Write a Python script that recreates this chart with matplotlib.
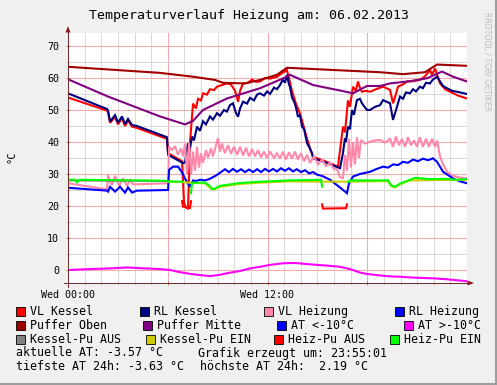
import numpy as np
import matplotlib
matplotlib.use('Agg')
import matplotlib.pyplot as plt
from matplotlib.patches import Rectangle, Polygon
from matplotlib.ticker import MultipleLocator, FixedLocator, FixedFormatter

plt.rcParams['font.family'] = ['DejaVu Sans Mono']

# ---------------- data (hours since 00:00, degrees C) ----------------
vl_kessel_t = [0, 2.35, 2.41, 2.53, 2.83, 3.01, 3.25, 3.43, 3.61, 3.85, 4.15, 5.95, 6.02, 6.86, 6.98, 7.10, 7.22,
               7.34, 7.52, 7.70, 7.82, 8.00, 8.12, 8.36, 8.54, 8.78, 8.96, 9.26, 9.56, 9.80, 10.05, 10.23, 10.35,
               10.53, 10.83, 11.07, 11.31, 11.55, 11.85, 12.15, 12.57, 12.87, 13.17, 13.29, 13.47, 13.71, 13.95,
               14.14, 14.38, 14.56, 14.74, 15.46, 16.24, 16.54, 16.66, 16.84, 16.96, 17.14, 17.32, 17.44, 17.56,
               17.68, 17.92, 18.17, 18.53, 18.95, 19.37, 19.55, 19.67, 19.85, 20.15, 20.39, 20.75, 21.17, 21.47,
               21.77, 21.89, 22.08, 22.20, 22.38, 22.68, 22.98, 23.46, 24.0]
vl_kessel_v = [53.9, 49.8, 49.3, 46.0, 47.8, 45.5, 47.5, 45.0, 46.7, 44.8, 44.4, 41.0, 36.5, 34.0, 21.0, 19.5, 19.2,
               40.0, 52.0, 50.5, 53.5, 53.0, 55.2, 54.8, 56.5, 56.2, 57.3, 57.8, 58.3, 58.0, 56.0, 52.6, 56.0,
               58.3, 58.5, 59.5, 58.8, 58.9, 60.0, 59.8, 60.4, 61.5, 62.5, 60.0, 56.0, 52.0, 49.0,
               45.5, 41.0, 38.0, 35.4, 34.0, 32.3, 44.8, 43.0, 53.0, 51.0, 57.3, 56.0, 58.9, 57.0,
               55.7, 56.0, 55.7, 56.5, 57.3, 56.3, 52.1, 54.0, 57.3, 58.0, 58.9, 59.0, 59.4, 60.5,
               62.5, 61.0, 63.0, 61.0, 58.3, 56.5, 55.7, 54.5, 53.6]

rl_kessel_t = [0, 2.35, 2.41, 2.53, 2.83, 3.01, 3.25, 3.43, 3.61, 3.85, 4.15, 5.95, 6.02, 6.92, 7.04, 7.22, 7.34,
               7.46, 7.58, 7.76, 7.94, 8.12, 8.30, 8.54, 8.72, 8.96, 9.14, 9.38, 9.56, 9.74, 9.92, 10.11, 10.23,
               10.35, 10.53, 10.77, 10.95, 11.19, 11.37, 11.55, 11.79, 11.97, 12.15, 12.39, 12.57, 12.75, 12.93,
               13.05, 13.17, 13.29, 13.35, 13.47, 13.65, 13.77, 13.83, 13.95, 14.08, 14.20, 14.38, 14.50, 14.68,
               14.74, 15.34, 16.36, 16.54, 16.66, 16.72, 16.84, 16.96, 17.08, 17.20, 17.38, 17.56, 17.68, 17.98,
               18.17, 18.47, 18.77, 18.95, 19.19, 19.37, 19.55, 19.73, 19.97, 20.15, 20.33, 20.57, 20.75, 20.93,
               21.17, 21.35, 21.53, 21.77, 21.95, 22.20, 22.38, 22.56, 22.80, 23.10, 23.40, 24.0]
rl_kessel_v = [55.2, 50.3, 49.8, 46.4, 48.4, 46.0, 48.0, 45.6, 47.2, 45.3, 45.0, 41.5, 36.0, 33.4, 33.6, 39.6, 38.0,
               41.7, 40.5, 44.8, 43.5, 46.5, 45.5, 48.0, 47.0, 49.0, 48.2, 50.0, 49.5, 51.5, 52.1, 49.0, 47.9,
               50.5, 52.6, 52.0, 53.8, 53.0, 54.8, 55.2, 54.5, 55.8, 55.0, 57.0, 56.5, 57.8, 59.5,
               58.5, 61.0, 58.0, 57.3, 54.0, 52.0, 49.5, 47.9, 48.5, 44.8, 44.0, 39.6, 38.5, 36.5,
               34.9, 33.9, 31.8, 36.5, 41.2, 40.0, 44.8, 44.0, 50.0, 48.5, 53.1, 53.5, 52.1, 50.0,
               50.0, 51.0, 51.5, 53.1, 52.5, 52.1, 46.9, 50.0, 54.2, 53.5, 55.5, 55.2, 56.5, 55.8,
               57.3, 56.8, 58.5, 58.3, 59.5, 60.4, 58.9, 57.5, 56.8, 56.0, 55.7, 55.0]

vl_heizung_t = [0, 2.35, 2.41, 2.53, 2.65, 2.83, 3.07, 3.31, 3.55, 3.73, 3.91, 4.15, 6.02, 6.08, 6.26, 6.44, 6.62,
                6.80, 6.92, 7.04, 7.16, 7.28, 7.40, 7.52, 7.64, 7.76, 7.88, 8.00, 8.12, 8.30, 8.42, 8.60, 8.72,
                8.90, 9.02, 9.14, 9.26, 9.44, 9.62, 9.80, 9.98, 10.17, 10.35, 10.53, 10.71, 10.89, 11.07, 11.25,
                11.43, 11.61, 11.79, 11.97, 12.15, 12.39, 12.57, 12.75, 12.93, 13.11, 13.29, 13.47, 13.65, 13.83,
                14.01, 14.20, 14.38, 14.56, 14.80, 15.04, 15.28, 15.52, 15.76, 16.00, 16.18, 16.36, 16.54, 16.66,
                16.78, 16.90, 17.02, 17.14, 17.26, 17.38, 17.50, 17.62, 17.86, 18.17, 18.47, 18.77, 19.07, 19.37,
                19.55, 19.73, 19.91, 20.09, 20.27, 20.45, 20.63, 20.81, 20.99, 21.17, 21.35, 21.53, 21.71, 21.89,
                22.08, 22.20, 22.38, 22.56, 22.80, 23.16, 23.58, 24.0]
vl_heizung_v = [27.1, 25.2, 29.7, 27.5, 26.6, 29.4, 26.3, 28.6, 26.3, 28.1, 26.8, 26.8, 27.1, 38.5, 37.5, 38.7, 36.0,
                38.0, 35.5, 39.5, 30.0, 39.7, 29.7, 37.0, 31.0, 38.5, 32.0, 36.5, 33.5, 37.5, 35.0, 38.0, 35.5,
                39.0, 41.2, 37.0, 39.5, 36.5, 39.0, 36.3, 38.5, 36.0, 38.5, 35.8, 38.2, 35.5, 37.8, 35.5,
                37.5, 35.2, 37.0, 35.0, 37.0, 35.0, 36.5, 34.8, 37.0, 34.5, 36.8, 34.8, 37.0, 34.5,
                36.5, 34.0, 36.0, 33.5, 35.5, 33.0, 34.5, 32.5, 33.5, 31.5, 31.5, 29.0, 28.7, 36.0,
                31.0, 41.0, 32.0, 40.0, 33.0, 41.5, 35.0, 40.6, 39.5, 40.1, 40.5, 40.6, 39.8, 41.0,
                38.5, 41.7, 39.0, 41.0, 38.5, 41.5, 39.0, 40.5, 38.5, 41.5, 38.5, 41.0, 38.5, 41.0,
                38.5, 40.5, 35.4, 33.0, 30.7, 29.4, 28.9, 28.6]

rl_heizung_t = [0, 2.35, 2.41, 2.53, 2.83, 3.13, 3.43, 3.61, 3.85, 4.15, 6.02, 6.08, 6.32, 6.62, 6.86, 7.04, 7.22,
                7.34, 7.52, 7.70, 7.94, 8.24, 8.54, 8.78, 8.96, 9.20, 9.44, 9.68, 9.92, 10.17, 10.41, 10.65,
                10.89, 11.13, 11.37, 11.61, 11.85, 12.09, 12.33, 12.57, 12.81, 13.05, 13.29, 13.53, 13.77, 14.01,
                14.26, 14.50, 14.74, 14.98, 15.28, 15.76, 16.36, 16.78, 16.90, 17.14, 17.56, 18.17, 18.53, 18.95,
                19.25, 19.55, 19.85, 20.15, 20.45, 20.75, 21.05, 21.35, 21.65, 21.95, 22.20, 22.56, 23.16, 23.58,
                24.0]
rl_heizung_v = [25.7, 24.8, 24.5, 26.0, 24.5, 26.0, 24.2, 25.8, 24.2, 24.8, 25.0, 31.3, 32.3, 32.3, 30.5, 28.6, 27.0,
                26.0, 28.0, 27.8, 28.2, 28.0, 28.5, 29.2, 29.7, 30.6, 31.5, 30.6, 31.6, 30.7, 31.5, 30.6,
                31.4, 30.6, 31.5, 30.6, 31.6, 30.8, 31.6, 30.8, 31.8, 31.0, 31.8, 30.8, 31.5, 30.6,
                31.2, 30.2, 30.6, 29.8, 29.4, 28.2, 25.8, 24.0, 27.0, 29.2, 30.0, 30.7, 31.5, 32.3,
                32.0, 33.0, 32.8, 33.8, 33.5, 34.5, 34.0, 34.8, 34.3, 34.9, 33.8, 30.7, 28.6, 27.7,
                27.1]

puffer_oben_t = [0, 5.53, 7.52, 8.84, 9.32, 10.65, 11.55, 12.57, 13.17, 18.77, 20.15, 21.47, 22.20, 24.0]
puffer_oben_v = [63.5, 61.6, 60.4, 59.4, 58.5, 58.3, 59.4, 61.0, 63.2, 61.8, 61.2, 61.8, 64.2, 63.8]

puffer_mitte_t = [0, 2.41, 5.53, 7.04, 7.52, 8.12, 9.56, 11.55, 13.17, 13.35, 14.74, 16.54, 17.14, 17.98, 18.77,
                  19.37, 20.57, 21.59, 22.50, 23.16, 24.0]
puffer_mitte_v = [59.6, 54.2, 48.0, 45.5, 46.6, 50.0, 53.6, 56.8, 60.4, 61.0, 57.8, 55.9, 55.2, 57.5, 57.5,
                  58.3, 59.0, 59.9, 62.0, 60.4, 58.9]

at_low_t = []   # AT <-10 degC: no data in this period
at_low_v = []

at_high_t = [0, 1.32, 2.53, 3.55, 4.63, 5.53, 6.14, 6.56, 7.34, 7.94, 8.54, 9.14, 9.56, 10.35, 10.95, 11.55, 12.15,
             12.93, 13.65, 14.26, 14.98, 15.76, 16.36, 16.96, 17.56, 17.98, 18.77, 19.37, 19.97, 20.87, 21.95,
             22.80, 23.58, 24.0]
at_high_v = [0.0, 0.3, 0.5, 0.8, 0.5, 0.3, 0.0, -0.5, -1.2, -1.6, -1.9, -1.5, -1.0, -0.3, 0.5, 1.0, 1.6,
             2.1, 2.2, 1.9, 1.6, 1.3, 1.0, 0.3, -0.8, -1.25, -1.7, -2.0, -2.1, -2.4, -2.6,
             -2.9, -3.3, -3.5]

kessel_aus_t = [0, 6.02]
kessel_aus_v = [28.0, 27.8]

kessel_ein_t = [6.02, 6.86, 7.46, 8.24, 8.66, 8.84, 9.14, 10.35, 11.55, 13.35, 15.28, 16.84, 19.25, 19.43, 19.67,
                19.97, 20.57, 24.0]
kessel_ein_v = [27.5, 27.5, 27.2, 27.1, 25.2, 25.3, 26.0, 26.9, 27.3, 27.7, 27.6, 27.6, 27.8, 26.3, 25.8,
                26.8, 28.0, 28.2]

heiz_aus_t = [6.86, 6.92, 7.34, 7.40, 7.41, 15.28, 15.34, 16.72, 16.78]
heiz_aus_v = [21.5, 19.8, 19.4, 21.5, np.nan, 20.5, 19.2, 19.3, 20.5]

heiz_ein_t = [0, 0.42, 0.54, 0.66, 5.83, 6.02, 6.86, 6.90, 7.40, 7.46, 8.24, 8.48, 8.66, 8.84, 9.14, 10.35, 11.55,
              13.35, 15.16, 15.22, 15.28, 15.50, 16.84, 16.96, 19.25, 19.43, 19.67, 19.97, 20.57, 20.87, 21.77,
              22.68, 23.28, 24.0]
heiz_ein_v = [28.2, 28.2, 27.4, 28.2, 27.9, 27.7, 27.6, np.nan, 24.0, 27.3, 27.3, 26.5, 25.3, 25.5, 26.3, 27.2, 27.6,
              28.0, 28.2, 28.2, 26.0, np.nan, 27.5, 28.0, 28.0, 26.5, 26.0, 27.0, 28.2, 28.8, 28.4,
              28.5, 28.2, 28.4]

x_tick_pos = [0, 6, 12, 18]
x_tick_labels = ['Wed 00:00', '', 'Wed 12:00', '']

title = 'Temperaturverlauf Heizung am: 06.02.2013'
legend_rows = [
    [('VL Kessel', '#FF0000'), ('RL Kessel', '#000080'), ('VL Heizung', '#FF88AA'), ('RL Heizung', '#0000FF')],
    [('Puffer Oben', '#A00000'), ('Puffer Mitte', '#800080'), ('AT <-10°C', '#0000FF'), ('AT >-10°C', '#FF00FF')],
    [('Kessel-Pu AUS', '#808080'), ('Kessel-Pu EIN', '#CCCC00'), ('Heiz-Pu AUS', '#FF0000'), ('Heiz-Pu EIN', '#00FF00')],
]
info_lines = [('aktuelle AT: -3.57 °C', 'Grafik erzeugt um: 23:55:01'),
              ('tiefste AT 24h: -3.63 °C', 'höchste AT 24h:  2.19 °C')]

# ---------------- layout ----------------
W, H = 497, 385
L, R, T, B = 68, 467, 33, 283
fig = plt.figure(figsize=(W / 100, H / 100), dpi=100, facecolor='#F0F0F0')
ax = fig.add_axes([L / W, 1 - B / H, (R - L) / W, (B - T) / H])
ax.set_facecolor('white')
ax.set_xlim(0, 24)
ax.set_ylim(-4.06, 74.06)
for s in ax.spines.values():
    s.set_visible(False)

ax.xaxis.set_major_locator(FixedLocator(x_tick_pos))
ax.xaxis.set_major_formatter(FixedFormatter(x_tick_labels))
ax.xaxis.set_minor_locator(MultipleLocator(1))
ax.yaxis.set_major_locator(MultipleLocator(10))
ax.yaxis.set_minor_locator(MultipleLocator(5))
ax.grid(which='minor', color='#DADADA', lw=0.75)
ax.grid(which='major', color='#F4AAAA', lw=0.75)
ax.set_axisbelow(True)
ax.tick_params(which='major', length=3, width=0.7, color='#C07070', direction='inout', labelsize=7.2)
ax.tick_params(which='minor', length=2, width=0.6, color='#909090', direction='inout')
ax.tick_params(axis='x', which='major', pad=3.2)
ax.tick_params(axis='y', which='major', pad=4.8)

lw = 1.5
series = [
    (vl_kessel_t, vl_kessel_v, '#FF0000'),
    (rl_kessel_t, rl_kessel_v, '#000080'),
    (vl_heizung_t, vl_heizung_v, '#FF88AA'),
    (rl_heizung_t, rl_heizung_v, '#0000FF'),
    (puffer_oben_t, puffer_oben_v, '#A00000'),
    (puffer_mitte_t, puffer_mitte_v, '#800080'),
    (at_low_t, at_low_v, '#0000FF'),
    (at_high_t, at_high_v, '#FF00FF'),
    (kessel_aus_t, kessel_aus_v, '#808080'),
    (kessel_ein_t, kessel_ein_v, '#CCCC00'),
    (heiz_aus_t, heiz_aus_v, '#FF0000'),
    (heiz_ein_t, heiz_ein_v, '#00FF00'),
]
for i, (t, v, c) in enumerate(series):
    ax.plot(t, v, color=c, lw=lw, solid_joinstyle='miter', zorder=2 + i * 0.01, clip_on=True)

# overlay in image pixel coordinates
oax = fig.add_axes([0, 0, 1, 1], zorder=5)
oax.set_xlim(0, W)
oax.set_ylim(H, 0)
oax.axis('off')
oax.patch.set_alpha(0)

axis_col = '#6B3030'
oax.plot([64, 468], [B, B], color=axis_col, lw=0.75)
oax.plot([L, L], [287, 32], color=axis_col, lw=0.75)
oax.add_patch(Polygon([[467.5, 280.5], [467.5, 285.5], [474, 283]], closed=True, color='#8B1A1A', lw=0))
oax.add_patch(Polygon([[65.5, 32.5], [70.5, 32.5], [68, 26]], closed=True, color='#8B1A1A', lw=0))

# border shade
oax.plot([495.5, 495.5], [0, H], color='#9E9E9E', lw=2.2)
oax.plot([0, W], [383.6, 383.6], color='#9E9E9E', lw=2.2)

oax.text(249, 16, title, ha='center', va='center', fontsize=9.5, color='black')
oax.text(12, 157, '°C', rotation=90, ha='center', va='center', fontsize=7.5)
oax.text(487, 62, 'RRDTOOL / TOBI OETIKER', rotation=270, ha='center', va='center', fontsize=5.6,
         color='#BDBDBD', family='DejaVu Sans')

row_y = [311.5, 325.5, 339.5]
col_x = [[16, 140, 264, 395], [16, 143, 277, 404], [16, 146, 274, 390]]
for r, row in enumerate(legend_rows):
    for c, (lab, col) in enumerate(row):
        bx = col_x[r][c]
        oax.add_patch(Rectangle((bx, row_y[r] - 4.5), 9, 9, facecolor=col, edgecolor='black', lw=0.6))
        oax.text(bx + 14, row_y[r], lab, ha='left', va='center', fontsize=8.4)

info_y = [353, 367]
info_x = [(16, 198), (16, 200)]
for (a, b), y, (xa, xb) in zip(info_lines, info_y, info_x):
    oax.text(xa, y, a, ha='left', va='center', fontsize=8.4)
    oax.text(xb, y, b, ha='left', va='center', fontsize=8.4)

fig.savefig('out.png', dpi=100, facecolor=fig.get_facecolor())
